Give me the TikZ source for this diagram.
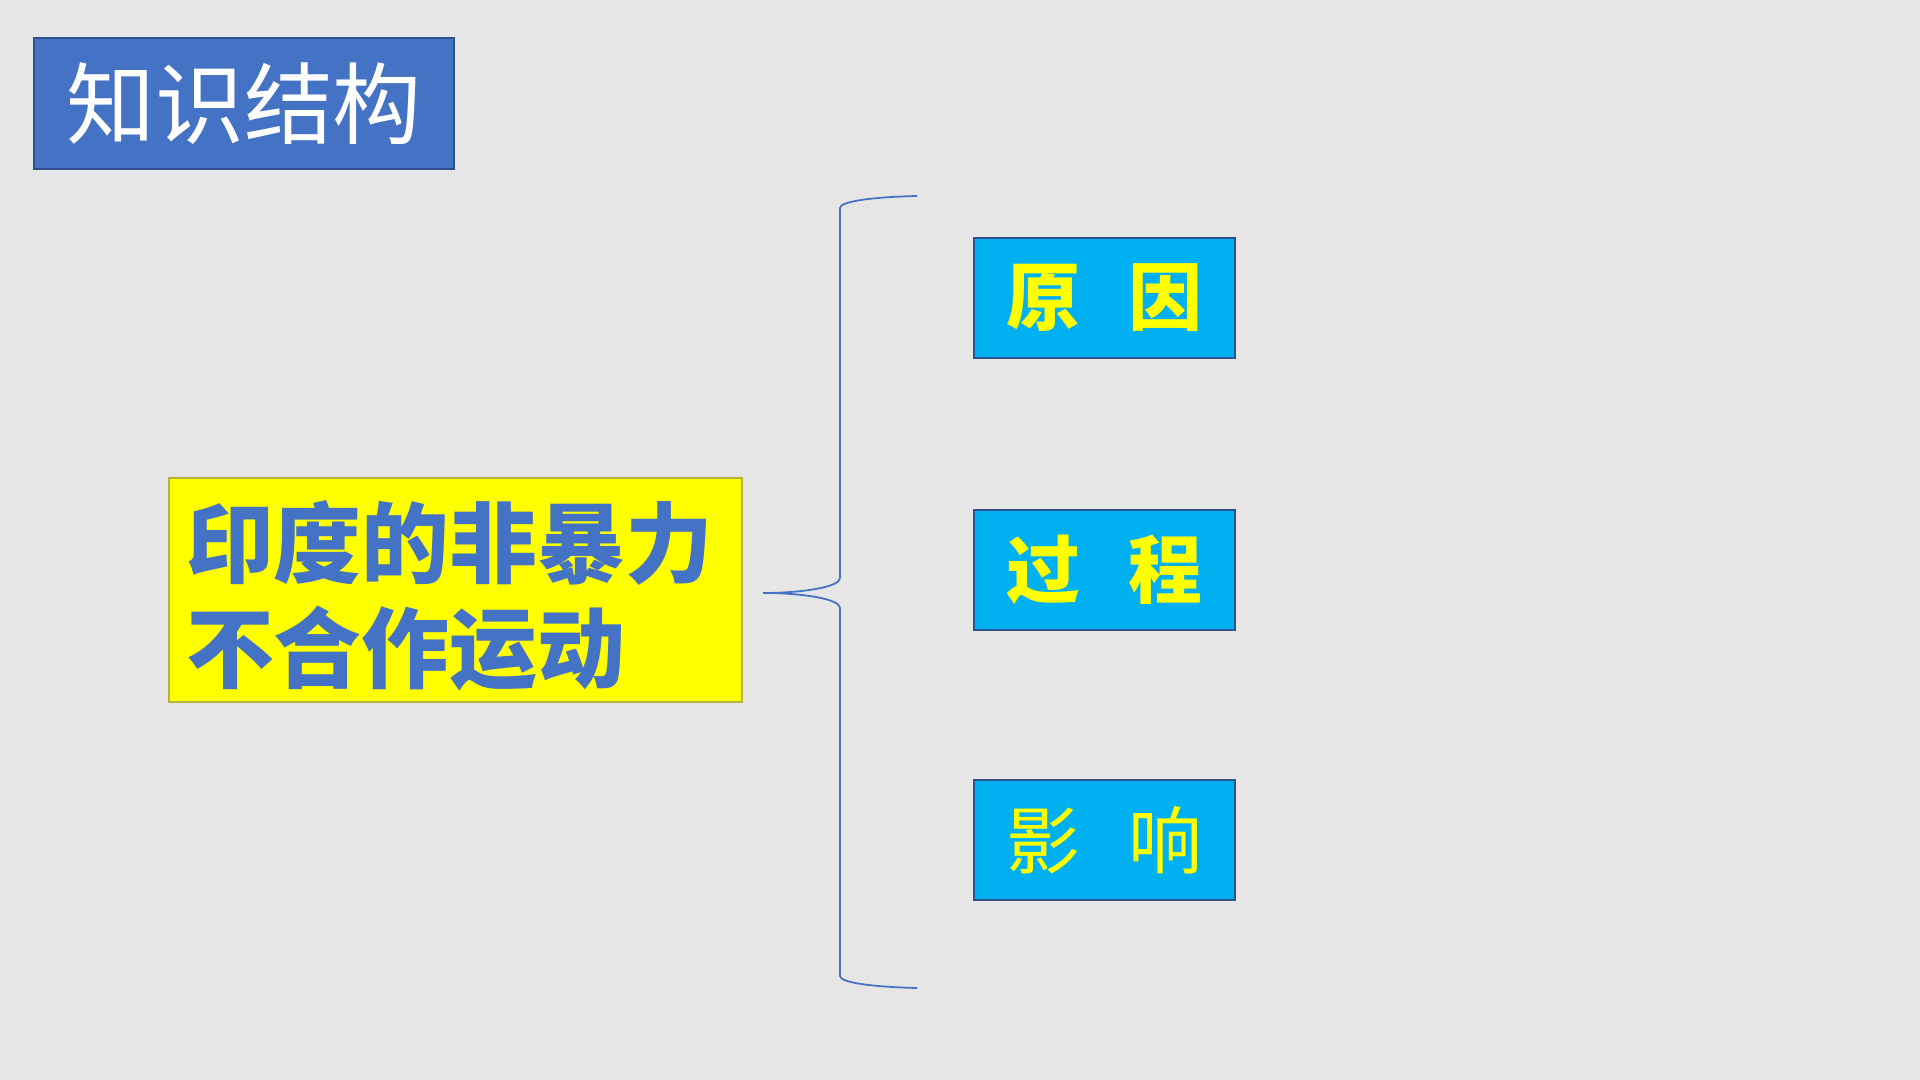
\documentclass[tikz,border=0pt]{standalone}
\usepackage{fontspec}
\setmainfont{Noto Sans CJK SC}
\usetikzlibrary{positioning}

\definecolor{slidebg}{HTML}{E7E6E6}
\definecolor{titleblue}{HTML}{4472C4}
\definecolor{edgeblue}{HTML}{2F528F}
\definecolor{skyblue}{HTML}{00B0F0}
\definecolor{sunyellow}{HTML}{FFFF00}
\definecolor{edgeolive}{HTML}{B4B43C}

\newcommand{\pairgap}{\hspace{13.9pt}}
\newcommand{\topictext}[1]{\raisebox{-1.7pt}[\height][\depth]{\parbox{5.39cm}{\raggedright #1}}}

\begin{document}
\begin{tikzpicture}[
    titlebox/.style = {draw=edgeblue, fill=titleblue, text=white, line width=0.6pt,
                       minimum width=4.20cm, minimum height=1.31cm,
                       font=\fontsize{25.3pt}{28pt}\selectfont},
    topicbox/.style = {draw=edgeolive, fill=sunyellow, text=titleblue, line width=0.4pt,
                       minimum width=5.73cm, minimum height=2.24cm, inner xsep=0.17cm,
                       font=\bfseries\fontsize{25pt}{29.9pt}\selectfont},
    partbox/.style  = {draw=edgeblue, fill=skyblue, text=sunyellow, line width=0.6pt,
                       minimum width=2.61cm, minimum height=1.20cm,
                       font=\fontsize{21pt}{24pt}\selectfont},
    brace/.style    = {draw=titleblue, line width=0.5pt}
  ]
  % Background
  \fill[slidebg] (0,0) rectangle (19.2,10.8);
  \useasboundingbox (0,0) rectangle (19.2,10.8);

  % Title
  \node[titlebox] (title) at (2.44,9.765) {知识结构};

  % Topic
  \node[topicbox] (topic) at (4.555,4.90) {\topictext{印度的非暴力\\不合作运动}};

  % Parts
  \node[partbox, font=\bfseries\fontsize{21pt}{24pt}\selectfont]
    (cause) at (11.045,7.82) {原\pairgap 因};
  \node[partbox, font=\bfseries\fontsize{21pt}{24pt}\selectfont,
        below=1.50cm of cause] (course) {过\pairgap 程};
  \node[partbox, below=1.48cm of course] (effect) {影\pairgap 响};

  % Brace
  \coordinate (tip)    at (7.63,4.87);
  \coordinate (topend) at (9.17,8.84);
  \coordinate (botend) at (9.17,0.92);
  \draw[brace] (topend) .. controls (8.75,8.83) and (8.40,8.79) .. (8.40,8.72)
    -- (8.40,5.02) .. controls (8.40,4.93) and (8.03,4.87) .. (tip);
  \draw[brace] (tip) .. controls (8.03,4.87) and (8.40,4.81) .. (8.40,4.72)
    -- (8.40,1.04) .. controls (8.40,0.97) and (8.75,0.93) .. (botend);
\end{tikzpicture}
\end{document}
